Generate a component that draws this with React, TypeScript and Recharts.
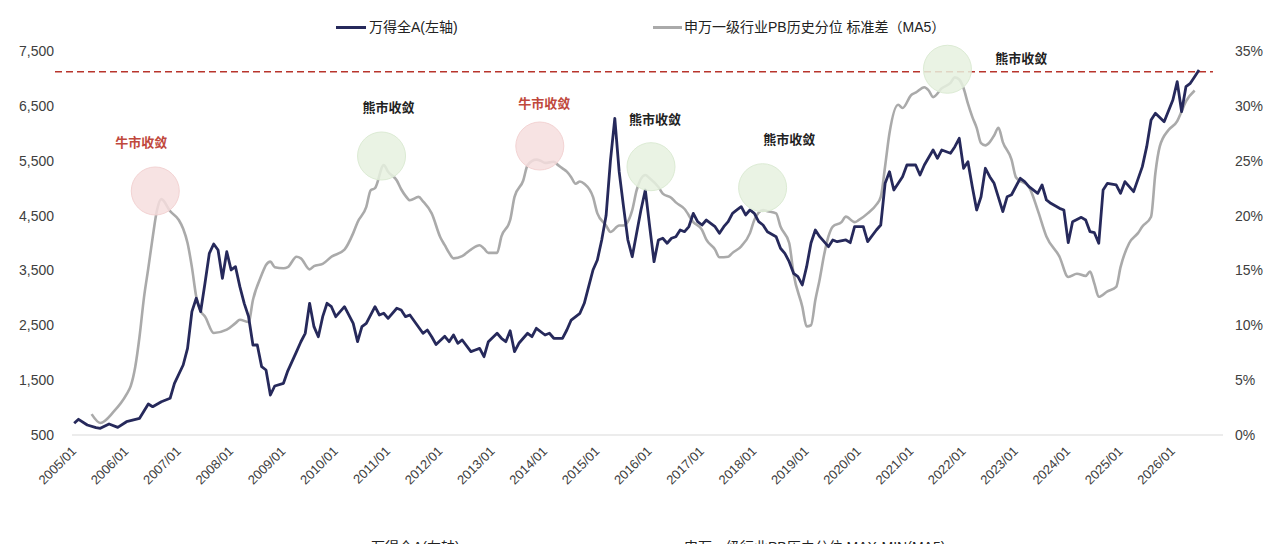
import React from 'react';
import { LineChart, Line, XAxis, YAxis, ReferenceLine, ReferenceDot } from 'recharts';

// months counted from 2005/01 (0 = 2005/01)
const windAMonths = [0,1,3,5,6,8,10,12,15,17,18,20,22,23,25,26,27,28,29,30,31,32,33,34,35,36,37,38,39,40,41,42,43,44,45,46,48,49,51,52,53,54,55,56,57,58,59,60,62,64,65,66,67,69,70,71,72,74,75,76,77,80,81,82,83,85,86,87,88,89,91,92,93,94,95,97,98,99,100,101,102,104,105,106,108,109,110,112,113,114,116,117,118,119,120,121,122,123,124,125,126,127,128,129,130,131,132,133,134,135,136,137,138,139,140,141,142,143,144,145,147,148,149,150,151,152,153,154,155,156,157,158,159,161,162,163,164,165,166,167,168,169,170,171,173,174,175,177,178,179,181,182,184,185,186,187,188,190,191,193,194,195,197,198,199,201,202,203,204,205,206,207,208,209,210,211,213,214,215,217,218,219,221,222,223,224,226,227,228,229,231,232,233,234,235,236,237,239,240,241,242,243,245,246,247,248,250,252,253,254,255,256,257,258];
const windAValues = [713,786,682,633,622,700,640,742,804,1065,1016,1107,1169,1442,1776,2080,2748,2992,2748,3265,3812,3982,3873,3357,3841,3508,3568,3204,2900,2657,2140,2141,1745,1685,1229,1393,1442,1670,2020,2200,2354,2901,2475,2292,2657,2901,2839,2657,2839,2536,2201,2475,2536,2839,2688,2719,2627,2810,2779,2657,2688,2354,2414,2292,2150,2300,2201,2323,2172,2232,2019,2050,2080,1928,2201,2354,2263,2201,2401,2019,2172,2354,2292,2445,2323,2354,2263,2263,2414,2596,2719,2901,3204,3508,3690,4055,4500,5500,6273,5300,4662,4055,3750,4177,4602,4966,4300,3659,4055,4086,3995,4086,4115,4237,4206,4300,4541,4389,4328,4419,4297,4177,4297,4389,4541,4602,4662,4511,4602,4541,4389,4328,4206,4115,3904,3812,3659,3448,3386,3235,3569,4000,4237,4115,3933,4055,4024,4055,4006,4297,4297,4024,4237,4328,5088,5300,4966,5209,5422,5422,5240,5422,5696,5544,5696,5635,5756,5909,5362,5482,5027,4602,4844,5362,5209,5088,4571,4844,4880,5179,5118,5027,4906,5058,4784,4724,4632,4602,4006,4389,4468,4419,4206,4188,3995,4966,5088,5058,4906,5118,5027,4936,5392,5756,6242,6364,6212,6607,6941,6394,6850,6911,7032,7154];

const pbStdMonths = [4,6,9,12,13,14,15,16,17,18,19,20,22,24,25,26,27,28,29,30,32,35,37,38,40,41,43,44,45,46,48,49,51,52,54,55,57,59,62,64,65,67,68,69,71,72,74,75,76,77,79,80,82,84,85,86,87,89,91,93,94,95,97,98,100,101,103,104,106,107,108,110,111,112,113,114,115,116,117,119,120,122,123,125,126,128,129,131,132,134,135,137,138,140,142,144,145,147,148,150,151,153,155,156,158,159,161,162,164,165,167,168,169,170,171,172,173,174,176,177,179,180,182,184,185,186,187,189,190,192,193,195,196,197,199,201,202,203,204,205,206,207,208,209,210,211,212,213,215,216,219,221,223,226,228,230,232,233,234,235,237,239,240,242,244,245,247,248,249,251,253,254,255,257];
const pbStdValues = [1.9,1.1,2.1,3.7,4.5,6.2,9.0,12.5,15.2,18.0,20.5,21.5,20.4,19.6,18.8,17.5,15.3,12.6,11.3,10.8,9.3,9.6,10.2,10.5,10.3,12.3,14.6,15.5,15.8,15.3,15.2,15.3,16.25,16.1,15.1,15.4,15.6,16.25,16.9,18.4,19.4,20.8,22.3,22.5,24.6,24.0,23.2,22.4,21.8,21.4,21.7,21.3,20.2,18.0,17.3,16.6,16.1,16.3,16.9,17.3,17.0,16.6,16.6,18.1,19.6,21.7,23.2,24.6,25.1,25.0,24.8,24.9,24.6,24.3,24.0,23.5,22.9,23.1,22.9,21.7,20.2,19.1,18.5,19.1,19.1,20.5,22.3,23.7,23.4,22.6,22.0,21.6,21.2,20.6,19.4,18.7,17.8,16.9,16.2,16.25,16.6,17.2,18.4,19.6,20.5,20.4,20.2,19.0,17.5,14.7,11.7,9.9,10.0,12.3,14.2,16.4,18.1,19.0,19.4,19.9,19.4,19.6,20.2,21.0,21.7,24.5,27.5,30.1,29.8,31.0,31.2,31.7,31.4,30.8,31.6,32.1,32.6,32.4,31.6,30.2,29.0,28.0,26.6,26.4,26.7,27.3,28.0,26.7,25.1,23.5,22.6,20.5,18.1,16.25,14.4,14.7,14.5,14.9,13.8,12.6,13.1,13.5,15.3,17.5,18.4,19.0,19.9,23.9,26.3,27.8,28.6,29.5,30.4,31.4];

const xTickMonths = [0,12,24,36,48,60,72,84,96,108,120,132,144,156,168,180,192,204,216,228,240,252];
const leftTicks = [500,1500,2500,3500,4500,5500,6500,7500];
const rightTicks = [0,5,10,15,20,25,30,35];

const thresholdLevel = 7123;
const thresholdSpan = [-4.4, 261.2];

const circleMonths = [18.6, 70.5, 106.8, 132.3, 157.9, 200.3];
const circleLevels = [4948, 5586, 5768, 5391, 5008, 7167];
const circleKinds = ['bull', 'bear', 'bull', 'bear', 'bear', 'bear'];

const noteMonths = [15.4, 72.1, 107.8, 133.2, 164, 217.2];
const noteLevels = [5836, 6467, 6547, 6255, 5878, 7367];
const noteTexts = ['牛市收敛', '熊市收敛', '牛市收敛', '熊市收敛', '熊市收敛', '熊市收敛'];
const noteKinds = ['bull', 'bear', 'bull', 'bear', 'bear', 'bear'];

const windAData = windAMonths.map((m, i) => ({ m, v: windAValues[i] }));
const pbStdData = pbStdMonths.map((m, i) => ({ m, v: pbStdValues[i] }));

const FONT = '"Liberation Sans", Arial, "Noto Sans CJK SC", sans-serif';
const NAVY = '#26295b';
const GRAY = '#aaaaaa';
const AXIS_TXT = '#404040';

const monthLabel = (m: number) => `${2005 + Math.floor(m / 12)}/${String((m % 12) + 1).padStart(2, '0')}`;

const XTick = (props: any) => {
  const { x, y, payload } = props;
  const ax = x + 3;
  const ay = y + 9;
  return (
    <text x={ax} y={ay} transform={`rotate(-45, ${ax}, ${ay})`} textAnchor="end" fontSize={13} fill={AXIS_TXT} fontFamily={FONT}>
      {monthLabel(payload.value)}
    </text>
  );
};

const NoteShape = (text: string, kind: string) => (props: any) => (
  <text
    x={props.cx}
    y={props.cy}
    textAnchor="middle"
    dominantBaseline="central"
    fontSize={13}
    fontWeight={600}
    fill={kind === 'bull' ? '#c0483c' : '#222222'}
    fontFamily={FONT}
  >
    {text}
  </text>
);

export default function App() {
  return (
    <div style={{ position: 'absolute', left: 0, top: 0, width: 1280, height: 544, overflow: 'hidden', background: '#fff', fontFamily: FONT }}>
      <div style={{ position: 'absolute', left: 336, top: 26, width: 30, height: 3, background: NAVY }} />
      <div style={{ position: 'absolute', left: 369, top: 18, fontSize: 14, lineHeight: '18px', color: '#222', whiteSpace: 'nowrap' }}>万得全A(左轴)</div>
      <div style={{ position: 'absolute', left: 653, top: 26, width: 29, height: 3, background: GRAY }} />
      <div style={{ position: 'absolute', left: 684, top: 18, fontSize: 14, lineHeight: '18px', color: '#222', whiteSpace: 'nowrap' }}>申万一级行业PB历史分位 标准差（MA5）</div>

      <div style={{ position: 'absolute', left: 371, top: 538, fontSize: 14, lineHeight: '18px', color: '#222', whiteSpace: 'nowrap' }}>万得全A(左轴)</div>
      <div style={{ position: 'absolute', left: 684, top: 538, fontSize: 14, lineHeight: '18px', color: '#222', whiteSpace: 'nowrap' }}>申万一级行业PB历史分位 MAX-MIN(MA5)</div>

      <div style={{ position: 'absolute', left: 0, top: 0 }}>
        <LineChart width={1280} height={544} margin={{ top: 51, right: 0, left: 0, bottom: 49 }}>
          <XAxis
            type="number"
            dataKey="m"
            domain={[-0.5, 263.5]}
            ticks={xTickMonths}
            interval={0}
            tick={<XTick />}
            tickLine={false}
            axisLine={{ stroke: '#d9d9d9', strokeWidth: 1 }}
            height={60}
            allowDataOverflow
          />
          <YAxis
            yAxisId="left"
            orientation="left"
            domain={[500, 7500]}
            ticks={leftTicks}
            width={72}
            tickLine={false}
            axisLine={false}
            tickMargin={12}
            tickFormatter={(v: number) => v.toLocaleString('en-US')}
            tick={{ fontSize: 14, fill: AXIS_TXT, fontFamily: FONT }}
            allowDataOverflow
          />
          <YAxis
            yAxisId="right"
            orientation="right"
            domain={[0, 35]}
            ticks={rightTicks}
            width={57}
            tickLine={false}
            axisLine={false}
            tickMargin={6}
            tickFormatter={(v: number) => `${v}%`}
            tick={{ fontSize: 14, fill: AXIS_TXT, fontFamily: FONT }}
            allowDataOverflow
          />
          {circleMonths.map((m, i) => (
            <ReferenceDot
              key={`c${i}`}
              yAxisId="left"
              x={m}
              y={circleLevels[i]}
              r={24}
              fill={circleKinds[i] === 'bull' ? '#f6dede' : '#e6f1df'}
              fillOpacity={0.85}
              stroke={circleKinds[i] === 'bull' ? '#f3d3d3' : '#dcebd4'}
              strokeWidth={1}
              ifOverflow="visible"
            />
          ))}
          <ReferenceLine
            yAxisId="left"
            segment={[{ x: thresholdSpan[0], y: thresholdLevel }, { x: thresholdSpan[1], y: thresholdLevel }]}
            stroke="#b8352c"
            strokeWidth={1.6}
            strokeDasharray="7 4"
            ifOverflow="visible"
          />
          <Line
            yAxisId="right"
            data={pbStdData}
            dataKey="v"
            type="monotone"
            stroke={GRAY}
            strokeWidth={2.6}
            dot={false}
            activeDot={false}
            isAnimationActive={false}
          />
          <Line
            yAxisId="left"
            data={windAData}
            dataKey="v"
            type="linear"
            stroke={NAVY}
            strokeWidth={2.8}
            strokeLinejoin="round"
            dot={false}
            activeDot={false}
            isAnimationActive={false}
          />
          {noteMonths.map((m, i) => (
            <ReferenceDot
              key={`n${i}`}
              yAxisId="left"
              x={m}
              y={noteLevels[i]}
              r={1}
              ifOverflow="visible"
              shape={NoteShape(noteTexts[i], noteKinds[i])}
            />
          ))}
        </LineChart>
      </div>
    </div>
  );
}
